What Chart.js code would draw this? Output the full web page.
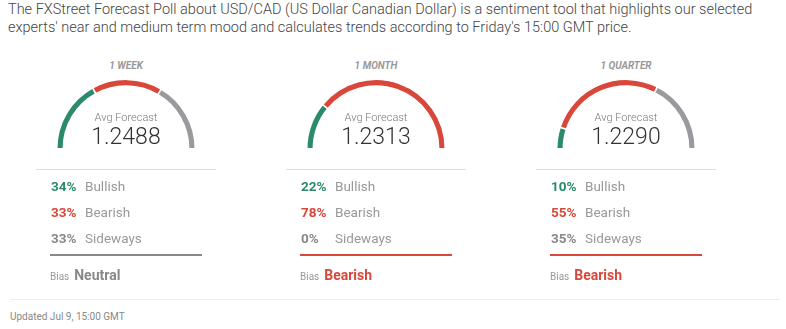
<!DOCTYPE html>
<html>
<head>
<meta charset="utf-8">
<script src="https://cdn.jsdelivr.net/npm/chart.js@4/dist/chart.umd.min.js"></script>
<style>
    html, body { margin: 0; padding: 0; background: #fff; }
    body { width: 786px; height: 329px; position: relative; overflow: hidden; font-family: Roboto, Arial, sans-serif; }
    .intro { position: absolute; left: 8px; top: 1px; width: 775px; font-size: 14.5px; font-weight: 300; line-height: 18px; color: #444; }
    .col { position: absolute; top: 0; width: 180px; height: 300px; }
    .col canvas { position: absolute; top: 78px; left: 20px; }
    .mid { position: absolute; left: 0; width: 180px; text-align: center; transform: translateY(-50%); white-space: nowrap; }
    .period { top: 65px; font-size: 10px; font-weight: bold; font-style: italic; color: #999; }
    .avg-label { top: 117px; font-size: 11px; font-weight: 300; color: #777; }
    .avg-value { top: 136px; font-size: 23px; font-weight: 300; color: #333; }
    .sep { position: absolute; left: 0; top: 169px; width: 180px; height: 1px; background: #ddd; }
    .pct, .lbl { position: absolute; font-size: 13.5px; transform: translateY(-50%); white-space: nowrap; }
    .pct { left: 15px; font-weight: bold; }
    .lbl { left: 49px; color: #999; }
    .bias-line { position: absolute; left: 14px; top: 254px; width: 152px; height: 2px; }
    .bias { position: absolute; left: 14px; top: 265px; white-space: nowrap; color: #999; }
    .bias small { font-size: 10px; }
    .bias b { font-size: 14px; margin-left: 1px; }
    .foot-line { position: absolute; left: 10px; top: 299px; width: 770px; height: 1px; background: #eee; }
    .updated { position: absolute; left: 10px; top: 311px; font-size: 10px; color: #888; }
</style>
</head>
<body>
<div class="intro">The FXStreet Forecast Poll about USD/CAD (US Dollar Canadian Dollar) is a sentiment tool that highlights our selected experts' near and medium term mood and calculates trends according to Friday's 15:00 GMT price.</div>
<div id="cols"></div>
<div class="foot-line"></div>
<div class="updated">Updated Jul 9, 15:00 GMT</div>

<script>
// poll data, one entry per horizon
const periods = ['1 WEEK', '1 MONTH', '1 QUARTER'];
const avgForecast = ['1.2488', '1.2313', '1.2290'];
const bullish = [34, 22, 10];
const bearish = [33, 78, 55];
const sideways = [33, 0, 35];
const bias = ['Neutral', 'Bearish', 'Bearish'];
const sentimentLabels = ['Bullish', 'Bearish', 'Sideways'];

const GREEN = '#2b8a6c';
const RED = '#d9473a';
const GREY = '#9a9a9e';
const colLeft = [36, 286, 536];

const biasColor = (b) => b === 'Bearish' ? RED : (b === 'Bullish' ? GREEN : '#888');

const container = document.getElementById('cols');

periods.forEach((period, i) => {
    const col = document.createElement('div');
    col.className = 'col';
    col.style.left = colLeft[i] + 'px';

    const values = [bullish[i], bearish[i], sideways[i]];
    const pctColors = [GREEN, RED, '#888'];
    const rowsHtml = values.map((v, k) =>
        `<div class="pct" style="top:${186 + k * 26}px;color:${pctColors[k]}">${v}%</div>` +
        `<div class="lbl" style="top:${186 + k * 26}px">${sentimentLabels[k]}</div>`
    ).join('');

    col.innerHTML = `
        <div class="mid period">${period}</div>
        <canvas width="140" height="72"></canvas>
        <div class="mid avg-label">Avg Forecast</div>
        <div class="mid avg-value">${avgForecast[i]}</div>
        <div class="sep"></div>
        ${rowsHtml}
        <div class="bias-line" style="background:${biasColor(bias[i])}"></div>
        <div class="bias"><small>Bias</small> <b style="color:${biasColor(bias[i])}">${bias[i]}</b></div>
    `;
    container.appendChild(col);

    // half doughnut gauge: bullish on the left, sideways on the right
    new Chart(col.querySelector('canvas').getContext('2d'), {
        type: 'doughnut',
        data: {
            labels: sentimentLabels,
            datasets: [{
                data: values,
                backgroundColor: [GREEN, RED, GREY],
                borderColor: '#fff',
                borderWidth: 1.5
            }]
        },
        options: {
            responsive: false,
            animation: false,
            rotation: -90,
            circumference: 180,
            cutout: '90.5%',
            layout: { padding: 0 },
            plugins: { legend: { display: false }, tooltip: { enabled: false } }
        }
    });
});
</script>
</body>
</html>
